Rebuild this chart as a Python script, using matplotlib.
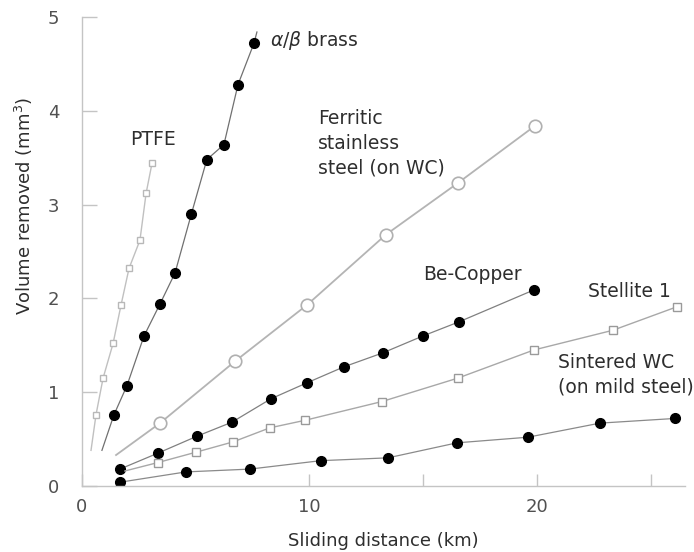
import matplotlib
matplotlib.use("Agg")
import matplotlib.pyplot as plt

plt.rcParams['font.family'] = ['DejaVu Sans']
plt.rcParams['mathtext.fontset'] = 'dejavusans'

# sliding distance (km) / volume removed (mm^3) for each material
ptfe_x = [0.63, 0.94, 1.38, 1.73, 2.08, 2.56, 2.83, 3.09]
ptfe_y = [0.76, 1.15, 1.52, 1.93, 2.32, 2.62, 3.12, 3.44]
ptfe_start = (0.41, 0.38)

brass_x = [1.42, 1.99, 2.74, 3.44, 4.10, 4.82, 5.50, 6.25, 6.87, 7.57]
brass_y = [0.76, 1.07, 1.60, 1.94, 2.27, 2.90, 3.48, 3.64, 4.28, 4.72]
brass_start = (0.89, 0.38)
brass_end = (7.70, 4.84)

ferritic_x = [3.44, 6.74, 9.90, 13.37, 16.53, 19.92]
ferritic_y = [0.67, 1.33, 1.93, 2.68, 3.23, 3.84]
ferritic_start = (1.51, 0.33)

becu_x = [1.68, 3.35, 5.06, 6.60, 8.32, 9.90, 11.52, 13.24, 15.00, 16.58, 19.87]
becu_y = [0.18, 0.35, 0.53, 0.68, 0.93, 1.10, 1.27, 1.42, 1.60, 1.75, 2.09]

stellite_x = [3.35, 5.02, 6.65, 8.27, 9.81, 13.19, 16.53, 19.87, 23.34, 26.15]
stellite_y = [0.25, 0.36, 0.47, 0.62, 0.70, 0.90, 1.15, 1.45, 1.66, 1.91]
stellite_start = (1.9, 0.16)

wc_x = [1.68, 4.58, 7.39, 10.51, 13.46, 16.49, 19.61, 22.77, 26.07]
wc_y = [0.04, 0.15, 0.18, 0.27, 0.30, 0.46, 0.52, 0.67, 0.72]

fig = plt.figure(figsize=(6.94, 5.52), dpi=100)
ax = fig.add_axes([0.1177, 0.1196, 0.869, 0.8496])

axis_grey = '#c4c4c4'
text_grey = '#2e2e2e'

# PTFE - small light open squares
ax.plot([ptfe_start[0]] + ptfe_x, [ptfe_start[1]] + ptfe_y, color='#c0c0c0', lw=1.0)
ax.plot(ptfe_x, ptfe_y, ls='none', marker='s', ms=5, mfc='white', mec='#b8b8b8', mew=1.0)

# alpha/beta brass - filled circles
ax.plot([brass_start[0]] + brass_x + [brass_end[0]],
        [brass_start[1]] + brass_y + [brass_end[1]], color='#707070', lw=0.9)
ax.plot(brass_x, brass_y, ls='none', marker='o', ms=7, color='black')

# ferritic stainless steel - large open circles
ax.plot([ferritic_start[0]] + ferritic_x, [ferritic_start[1]] + ferritic_y, color='#b4b4b4', lw=1.3)
ax.plot(ferritic_x, ferritic_y, ls='none', marker='o', ms=9, mfc='white', mec='#b0b0b0', mew=1.2)

# Be-Copper
ax.plot(becu_x, becu_y, color='#808080', lw=0.9)
ax.plot(becu_x, becu_y, ls='none', marker='o', ms=7, color='black')

# Stellite 1 - small open squares
ax.plot([stellite_start[0]] + stellite_x, [stellite_start[1]] + stellite_y, color='#a8a8a8', lw=1.0)
ax.plot(stellite_x, stellite_y, ls='none', marker='s', ms=5.5, mfc='white', mec='#9a9a9a', mew=1.0)

# sintered WC on mild steel
ax.plot(wc_x, wc_y, color='#8a8a8a', lw=0.9)
ax.plot(wc_x, wc_y, ls='none', marker='o', ms=7, color='black')

fs = 13.5
ax.text(8.27, 4.75, r'$\alpha/\beta$ brass', fontsize=fs, color=text_grey, ha='left', va='center')
ax.text(2.12, 3.69, 'PTFE', fontsize=fs, color=text_grey, ha='left', va='center')
ax.text(10.39, 4.02, 'Ferritic\nstainless\nsteel (on WC)', fontsize=fs, color=text_grey,
        ha='left', va='top', linespacing=1.4)
ax.text(15.0, 2.26, 'Be-Copper', fontsize=fs, color=text_grey, ha='left', va='center')
ax.text(22.25, 2.07, 'Stellite 1', fontsize=fs, color=text_grey, ha='left', va='center')
ax.text(20.93, 1.42, 'Sintered WC\n(on mild steel)', fontsize=fs, color=text_grey,
        ha='left', va='top', linespacing=1.4)

ax.set_xlim(0, 26.5)
ax.set_ylim(0, 5)

ax.set_xticks([0, 10, 15, 20, 25])
ax.set_xticklabels(['0', '10', '', '20', ''])
ax.set_yticks([0, 1, 2, 3, 4, 5])
ax.tick_params(axis='x', direction='in', length=9, width=1, color=axis_grey,
               pad=9, labelsize=13, labelcolor='#505050')
ax.tick_params(axis='y', direction='in', length=11, width=1, color=axis_grey,
               pad=16, labelsize=13, labelcolor='#505050')

for side in ['top', 'right']:
    ax.spines[side].set_visible(False)
for side in ['left', 'bottom']:
    ax.spines[side].set_color(axis_grey)
    ax.spines[side].set_linewidth(1.0)

ax.set_xlabel('Sliding distance (km)', fontsize=13, color=text_grey)
ax.xaxis.set_label_coords(0.5, -0.098)
ax.set_ylabel('Volume removed (mm$^3$)', fontsize=13, color=text_grey)
ax.yaxis.set_label_coords(-0.078, 0.597)

fig.savefig('out.png', dpi=100)
